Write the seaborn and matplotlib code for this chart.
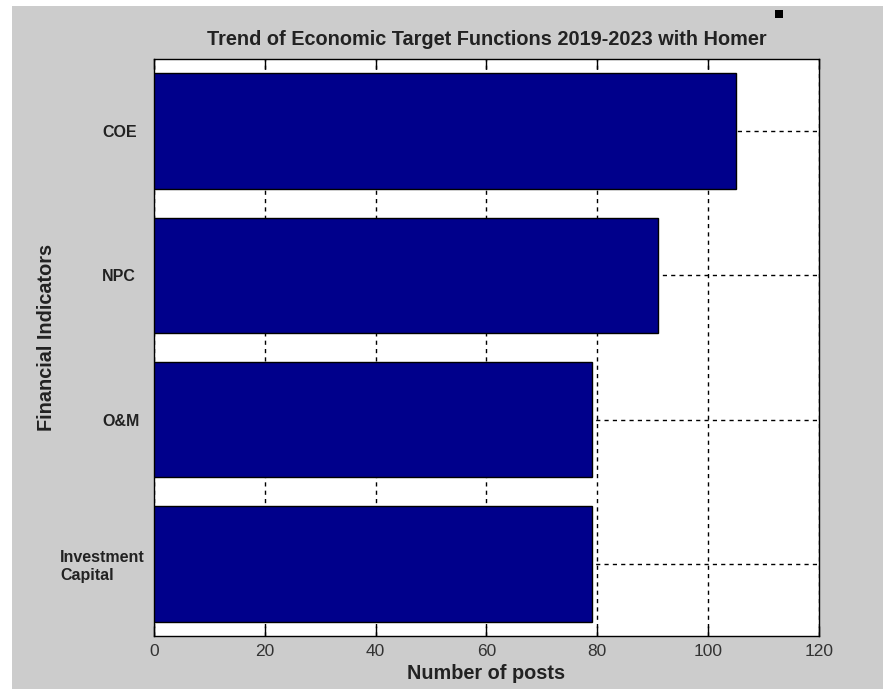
import matplotlib
matplotlib.use("Agg")
import matplotlib.pyplot as plt
import seaborn as sns
import pandas as pd
from matplotlib.patches import Rectangle

categories = ["COE", "NPC", "O&M", "Investment\nCapital"]
values = [105, 91, 79, 79]
xticks = [0, 20, 40, 60, 80, 100, 120]

df = pd.DataFrame({"indicator": categories, "posts": values})

sns.set_theme(style="white")
plt.rcParams["font.family"] = ["Liberation Sans", "DejaVu Sans"]

fig = plt.figure(figsize=(8.83, 6.89), dpi=100, facecolor="#cccccc")
# white margins at top and left of the original screenshot
fig.patches.append(Rectangle((0, 0.992), 1, 0.008, transform=fig.transFigure,
                             facecolor="white", edgecolor="none", zorder=0))
fig.patches.append(Rectangle((0, 0), 0.0136, 1, transform=fig.transFigure,
                             facecolor="white", edgecolor="none", zorder=0))
fig.patches.append(Rectangle((0.878, 0.974), 0.009, 0.012, transform=fig.transFigure,
                             facecolor="black", edgecolor="none", zorder=1))

ax = fig.add_axes([0.1744, 0.0769, 0.7531, 0.8374])
ax.set_facecolor("white")

sns.barplot(data=df, x="posts", y="indicator", orient="h", color="#00008b",
            saturation=1, width=0.8, edgecolor="black", linewidth=1.0, ax=ax, zorder=3)

ax.set_xlim(0, 120)
ax.set_ylim(3.5, -0.5)
ax.set_xticks(xticks)
ax.set_xticklabels([str(t) for t in xticks], fontsize=12.5, color="#333333")
ax.set_yticklabels(categories, fontsize=11.5, fontweight="bold", color="#222222",
                   ha="left", linespacing=1.2)
for lbl in ax.get_yticklabels():
    lbl.set_x(-0.141 if "\n" in lbl.get_text() else -0.078)

ax.grid(True, which="major", axis="both", color="black", linestyle=(0, (3, 3)),
        linewidth=1.0, zorder=0)
ax.set_axisbelow(True)

ax.tick_params(axis="x", direction="in", length=7, width=1, top=True, bottom=True,
               color="black", pad=6)
ax.tick_params(axis="y", length=0, pad=0)

for s in ax.spines.values():
    s.set_visible(True)
    s.set_color("black")
    s.set_linewidth(1.0)

ax.set_xlabel("Number of posts", fontsize=14.3, fontweight="bold", color="#222222", labelpad=3)
ax.set_ylabel("Financial Indicators", fontsize=14.3, fontweight="bold", color="#222222")
ax.yaxis.set_label_coords(-0.147, 0.517)
ax.set_title("Trend of Economic Target Functions 2019-2023 with Homer",
             fontsize=14.3, fontweight="bold", color="#222222", pad=10)

fig.savefig("out.png", dpi=100, facecolor=fig.get_facecolor())
